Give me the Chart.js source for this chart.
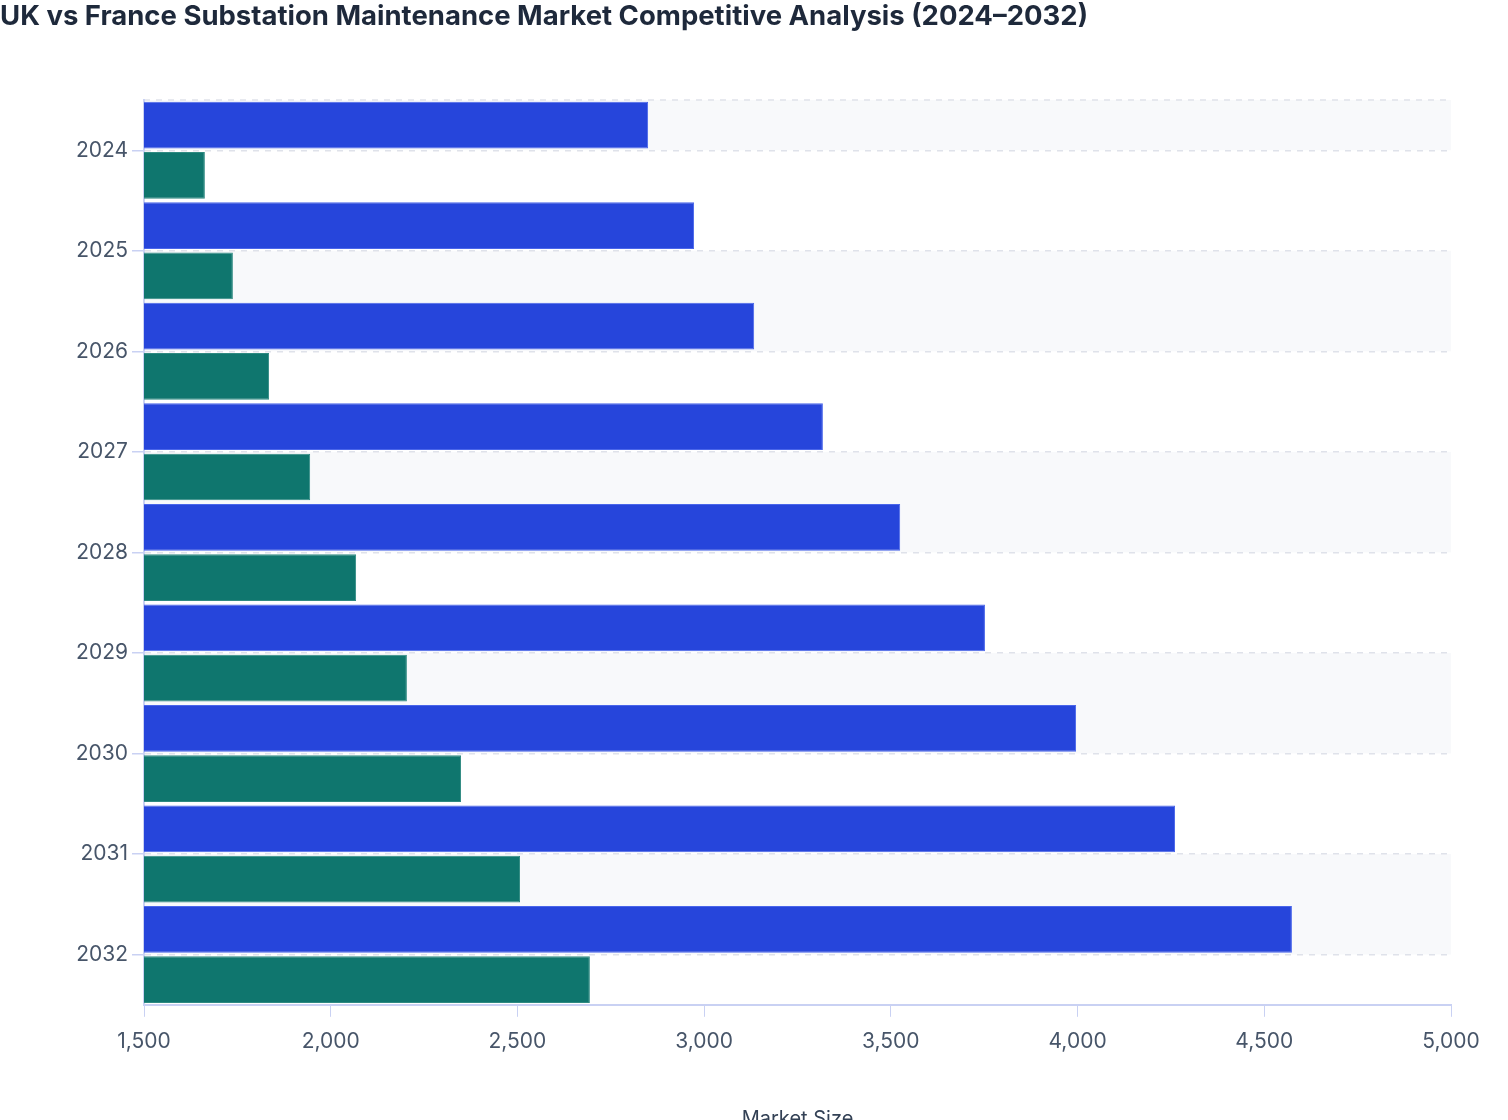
<!DOCTYPE html>
<html>
<head>
<meta charset="utf-8">
<title>UK vs France Substation Maintenance Market</title>
<script src="https://cdn.jsdelivr.net/npm/chart.js@4.4.1/dist/chart.umd.min.js"></script>
<style>
  html, body { margin: 0; padding: 0; background: #ffffff; }
  #chart { display: block; }
</style>
</head>
<body>
<canvas id="chart" width="1508" height="1120"></canvas>
<script>
// Data
const years = ["2024", "2025", "2026", "2027", "2028", "2029", "2030", "2031", "2032"];
const ukValues = [2850, 2973, 3134, 3318, 3525, 3752, 3996, 4261, 4574];
const franceValues = [1663, 1738, 1835, 1945, 2068, 2204, 2349, 2507, 2694];
const xMin = 1500;
const xMax = 5000;
const xStep = 500;

const gridColor = "#dfe2ea";
const axisColor = "#c9d1f3";
const tickTextColor = "#475569";

// Alternating light bands between the year lines, plus the dashed top edge
const bandPlugin = {
  id: "bands",
  beforeDraw(chart) {
    const { ctx, chartArea } = chart;
    const y = chart.scales.y;
    ctx.save();
    ctx.fillStyle = "#f8f9fb";
    for (let i = -1; i < years.length; i += 2) {
      const top = Math.max(chartArea.top, y.getPixelForValue(i));
      const bottom = Math.min(chartArea.bottom, y.getPixelForValue(i + 1));
      if (bottom > top) {
        ctx.fillRect(chartArea.left, top, chartArea.right - chartArea.left, bottom - top);
      }
    }
    ctx.strokeStyle = gridColor;
    ctx.lineWidth = 1.5;
    ctx.setLineDash([6, 6]);
    ctx.beginPath();
    ctx.moveTo(chartArea.left, chartArea.top);
    ctx.lineTo(chartArea.right, chartArea.top);
    ctx.stroke();
    ctx.restore();
  },
};

const ctx = document.getElementById("chart").getContext("2d");
new Chart(ctx, {
  type: "bar",
  data: {
    labels: years,
    datasets: [
      {
        label: "UK",
        data: ukValues,
        backgroundColor: "#2645db",
        borderColor: "#4a66ea",
        borderWidth: 1,
        barPercentage: 0.93,
        categoryPercentage: 1.0,
      },
      {
        label: "France",
        data: franceValues,
        backgroundColor: "#0f766e",
        borderColor: "#2f8a82",
        borderWidth: 1,
        barPercentage: 0.93,
        categoryPercentage: 1.0,
      },
    ],
  },
  options: {
    indexAxis: "y",
    responsive: false,
    animation: false,
    devicePixelRatio: 1,
    layout: { padding: { left: 0, top: 0, right: 57, bottom: 0 } },
    font: { family: "Inter" },
    scales: {
      x: {
        type: "linear",
        min: xMin,
        max: xMax,
        ticks: {
          stepSize: xStep,
          padding: 12,
          color: tickTextColor,
          font: { family: "Inter", size: 21 },
          callback: (v) => v.toLocaleString("en-US"),
        },
        grid: { drawOnChartArea: false, drawTicks: true, tickLength: 12, tickColor: axisColor },
        border: { display: true, color: axisColor, width: 2 },
        title: {
          display: true,
          text: "Market Size",
          color: "#334155",
          font: { family: "Inter", size: 20 },
          padding: { top: 41, bottom: -11 },
        },
      },
      y: {
        type: "category",
        offset: true,
        ticks: {
          padding: 4,
          color: tickTextColor,
          font: { family: "Inter", size: 21 },
        },
        grid: { offset: false, color: gridColor, tickColor: axisColor, tickLength: 12, lineWidth: 1.5 },
        border: { display: true, color: axisColor, width: 2, dash: [6, 6] },
        afterFit: (scale) => {
          scale.width = 144;
        },
      },
    },
    plugins: {
      legend: { display: false },
      tooltip: { enabled: false },
      title: {
        display: true,
        text: "UK vs France Substation Maintenance Market Competitive Analysis (2024\u20132032)",
        align: "start",
        color: "#1e293b",
        font: { family: "Inter", size: 27.5, weight: "700" },
        padding: { top: 0, bottom: 67 },
      },
    },
  },
  plugins: [bandPlugin],
});
</script>
</body>
</html>
